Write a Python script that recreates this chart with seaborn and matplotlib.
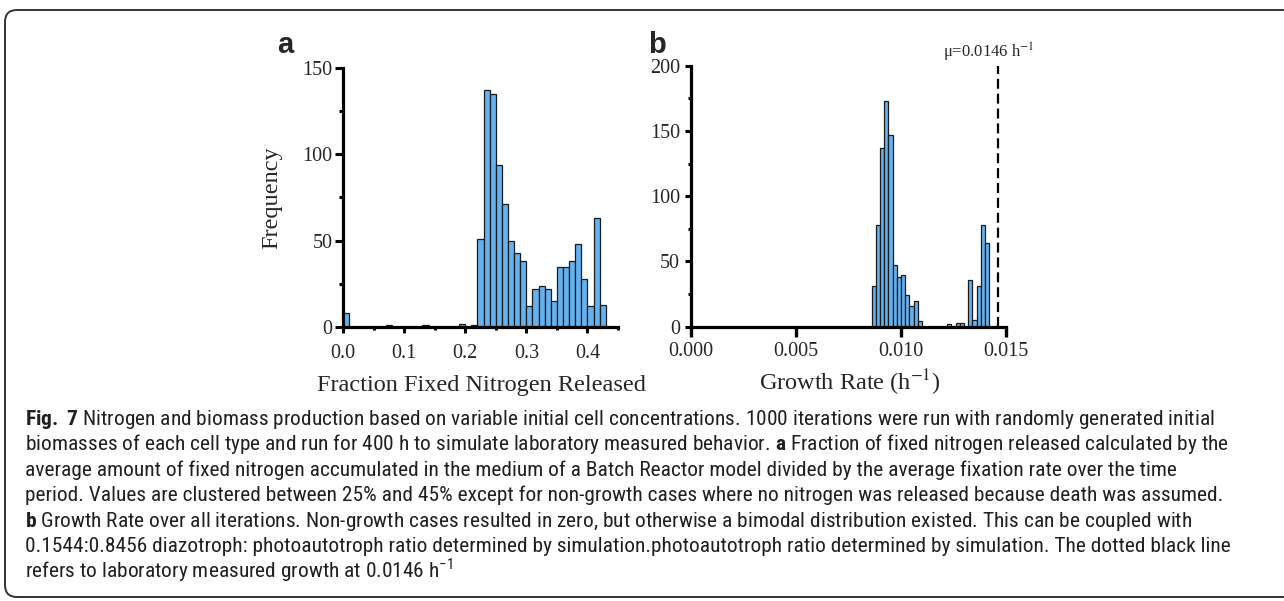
import numpy as np
import matplotlib
matplotlib.use("Agg")
import matplotlib.pyplot as plt
import seaborn as sns
from matplotlib import font_manager as fm
from matplotlib.font_manager import FontProperties
from matplotlib.textpath import TextPath
from matplotlib.patches import FancyBboxPatch
from matplotlib.transforms import IdentityTransform, blended_transform_factory
from matplotlib.ticker import FixedLocator

# ---------------- data ----------------
a_bin_left = [0.00, 0.07, 0.13, 0.19, 0.21, 0.22, 0.23, 0.24, 0.25, 0.26, 0.27, 0.28,
              0.29, 0.30, 0.31, 0.32, 0.33, 0.34, 0.35, 0.36, 0.37, 0.38, 0.39, 0.40,
              0.41, 0.42]
a_counts = [8, 1, 1, 2, 1, 51, 137, 135, 94, 71, 50, 43,
            38, 12, 22, 24, 22, 15, 35, 35, 38, 48, 28, 12,
            63, 13]
a_bin_width = 0.01

b_bin_left = [0.0086, 0.0088, 0.0090, 0.0092, 0.0094, 0.0096, 0.0098, 0.0100, 0.0102,
              0.0104, 0.0106, 0.0108, 0.0122, 0.0126, 0.0128, 0.0132, 0.0134, 0.0136,
              0.0138, 0.0140]
b_counts = [31, 78, 137, 173, 147, 47, 38, 40, 24,
            16, 20, 4, 2, 3, 3, 36, 5, 31,
            78, 64]
b_bin_width = 0.0002

a_xticks = [0.0, 0.1, 0.2, 0.3, 0.4]
a_xticklabels = ["0.0", "0.1", "0.2", "0.3", "0.4"]
a_xminor = [0.05, 0.15, 0.25, 0.35, 0.45]
a_yticks = [0, 50, 100, 150]
a_yminor = [25, 75, 125]
b_xticks = [0.000, 0.005, 0.010, 0.015]
b_xticklabels = ["0.000", "0.005", "0.010", "0.015"]
b_yticks = [0, 50, 100, 150, 200]
b_yminor = [25, 75, 125, 175]
mu_value = 0.0146

a_xlabel = "Fraction Fixed Nitrogen Released"
a_ylabel = "Frequency"
b_xlabel = r"Growth Rate (h$^{-1}$)"
mu_label = r"μ=0.0146 h$^{-1}$"

caption_lines = [
    r"$\mathbf{Fig.}$ $\mathbf{7}$ Nitrogen and biomass production based on variable initial cell concentrations. 1000 iterations were run with randomly generated initial",
    r"biomasses of each cell type and run for 400 h to simulate laboratory measured behavior. $\mathbf{a}$ Fraction of fixed nitrogen released calculated by the",
    "average amount of fixed nitrogen accumulated in the medium of a Batch Reactor model divided by the average fixation rate over the time",
    "period. Values are clustered between 25% and 45% except for non-growth cases where no nitrogen was released because death was assumed.",
    r"$\mathbf{b}$ Growth Rate over all iterations. Non-growth cases resulted in zero, but otherwise a bimodal distribution existed. This can be coupled with",
    "0.1544:0.8456 diazotroph: photoautotroph ratio determined by simulation.photoautotroph ratio determined by simulation. The dotted black line",
    r"refers to laboratory measured growth at 0.0146 h$^{-1}$",
]
caption_plain_line1 = ("Fig. 7 Nitrogen and biomass production based on variable initial cell "
                       "concentrations. 1000 iterations were run with randomly generated initial")

# ---------------- style ----------------
sns.set_style("ticks")
names = {f.name for f in fm.fontManager.ttflist}
serif = "Liberation Serif" if "Liberation Serif" in names else "DejaVu Serif"

# choose the caption sans font whose glyphs, fitted to the line width, come closest
# to the tall, narrow look of the reference caption
pref_names = ["Liberation Sans Narrow", "Roboto Condensed", "Noto Sans Condensed",
              "Noto Sans SemiCondensed", "Open Sans Condensed", "Open Sans SemiCondensed",
              "Noto Sans", "Open Sans", "Roboto", "Lato", "Liberation Sans", "DejaVu Sans"]
cands = []
for f in fm.fontManager.ttflist:
    if f.name in pref_names and f.style == "normal" and f.weight in (400, "normal", "regular"):
        key = (f.name, f.stretch)
        if key not in cands:
            cands.append(key)
if not cands:
    cands = [("DejaVu Sans", "condensed")]
CAP_W = 1191.0
best, best_err = None, None
for name, stretch in cands:
    try:
        prop = FontProperties(family=name, stretch=stretch, size=12)
        w = TextPath((0, 0), caption_plain_line1, size=12, prop=prop).get_extents().width
        ch = TextPath((0, 0), "H", size=12, prop=prop).get_extents().height
        cap_px = ch * CAP_W / w
        err = abs(cap_px - 15.0)
        if best is None or err < best_err:
            best, best_err = (name, stretch), err
    except Exception:
        continue
cap_family, cap_stretch = best

plt.rcParams["font.family"] = [serif, "DejaVu Sans"]
plt.rcParams["mathtext.fontset"] = "stix"
plt.rcParams["mathtext.rm"] = cap_family
plt.rcParams["mathtext.bf"] = cap_family + ":bold"

W, H = 1284, 601
fig = plt.figure(figsize=(W / 100, H / 100), dpi=100)
fig.patch.set_facecolor("white")


def px_axes(l, t, r, b):
    return fig.add_axes([l / W, 1 - b / H, (r - l) / W, (b - t) / H])


bar_face = "#64B2F0"
bar_edge = "#1a1a1a"

axa = px_axes(343, 68, 618, 327)
axb = px_axes(691, 65.7, 1006, 326.7)

# panel a
a_edges = [float(v) for v in np.round(np.arange(0, 44) * a_bin_width, 6)]
a_centers = [v + a_bin_width / 2 for v in a_bin_left]
sns.histplot(x=a_centers, weights=a_counts, bins=a_edges, ax=axa, color=bar_face,
             edgecolor=bar_edge, linewidth=0.9, alpha=1)

# panel b
b_edges = [float(v) for v in np.round(0.0086 + np.arange(0, 29) * b_bin_width, 7)]
b_centers = [v + b_bin_width / 2 for v in b_bin_left]
sns.histplot(x=b_centers, weights=b_counts, bins=b_edges, ax=axb, color=bar_face,
             edgecolor=bar_edge, linewidth=0.9, alpha=1)

axb.axvline(mu_value, color="black", lw=1.6, linestyle=(0, (4.5, 2.2)), zorder=3)

for ax in (axa, axb):
    sns.despine(ax=ax)
    for s in ("left", "bottom"):
        ax.spines[s].set_linewidth(2.3)
        ax.spines[s].set_color("black")
    ax.set_ylabel("")
    ax.set_xlabel("")

axa.set_xlim(0, 0.45)
axa.set_ylim(0, 150)
axa.xaxis.set_major_locator(FixedLocator(a_xticks))
axa.set_xticklabels(a_xticklabels)
axa.xaxis.set_minor_locator(FixedLocator(a_xminor))
axa.yaxis.set_major_locator(FixedLocator(a_yticks))
axa.yaxis.set_minor_locator(FixedLocator(a_yminor))
axa.tick_params(axis="x", which="major", length=4.5, width=2.2, pad=8, labelsize=14.5, color="black")
axa.tick_params(axis="x", which="minor", length=2.5, width=2.2, color="black")
axa.tick_params(axis="y", which="major", length=5.5, width=2.2, pad=2, labelsize=14.5, color="black")
axa.tick_params(axis="y", which="minor", length=3, width=2.2, color="black")

axb.set_xlim(0, 0.015)
axb.set_ylim(0, 200)
axb.xaxis.set_major_locator(FixedLocator(b_xticks))
axb.set_xticklabels(b_xticklabels)
axb.yaxis.set_major_locator(FixedLocator(b_yticks))
axb.yaxis.set_minor_locator(FixedLocator(b_yminor))
axb.tick_params(axis="x", which="major", length=7, width=2.4, pad=4, labelsize=14.5, color="black")
axb.tick_params(axis="y", which="major", length=4.5, width=2.2, pad=3.5, labelsize=14.5, color="black")
axb.tick_params(axis="y", which="minor", length=2.2, width=2.2, color="black")

axa.set_ylabel(a_ylabel, fontsize=17.5)
axa.yaxis.set_label_coords(-0.222, 0.5)
axa.set_xlabel(a_xlabel, fontsize=17.5)
axa.xaxis.set_label_coords(0.502, -0.185)
axb.set_xlabel(b_xlabel, fontsize=17.5)
axb.xaxis.set_label_coords(0.505, -0.155)

trans = blended_transform_factory(axb.transData, axb.transAxes)
axb.text(0.01202, 1.0295, mu_label, transform=trans, fontsize=12, ha="left", va="baseline")

# panel letters
fig.text(285 / W, 1 - 53 / H, "a", fontsize=21, fontweight="bold", family="Liberation Sans",
         ha="center", va="baseline")
fig.text(657 / W, 1 - 53 / H, "b", fontsize=21, fontweight="bold", family="Liberation Sans",
         ha="center", va="baseline")

# caption box
box = FancyBboxPatch((5, 4), 1320, 587, boxstyle="round,pad=0,rounding_size=12",
                     transform=IdentityTransform(), facecolor="none", edgecolor="#333333",
                     linewidth=1.4)
fig.add_artist(box)

renderer = fig.canvas.get_renderer()
texts = []
for i, line in enumerate(caption_lines):
    t = fig.text(25 / W, 1 - (425 + 25.4 * i) / H, line, fontsize=12, family=cap_family,
                 stretch=cap_stretch, ha="left", va="baseline", color="#231f20")
    t.set_math_fontfamily("custom")
    texts.append(t)
w0 = texts[0].get_window_extent(renderer).width
fs = 12 * CAP_W / w0
for t in texts:
    t.set_fontsize(fs)

fig.savefig("out.png", dpi=100, facecolor="white")
